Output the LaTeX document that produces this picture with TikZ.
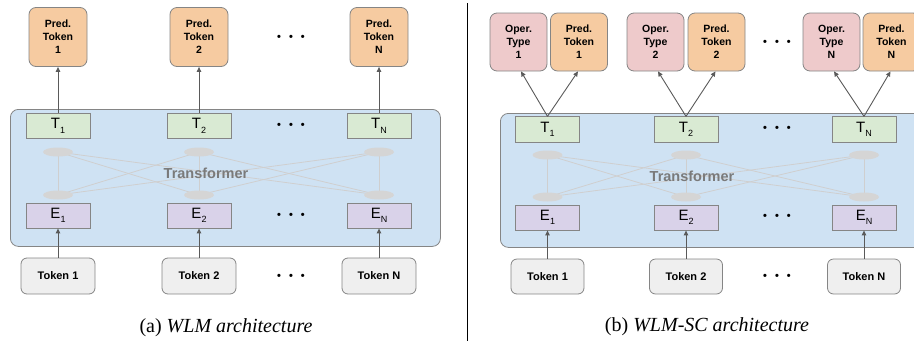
\documentclass[tikz,border=0pt]{standalone}
\usepackage{fontspec}
\setmainfont{Liberation Serif}
\setsansfont{Liberation Sans}
\usetikzlibrary{arrows.meta,shapes.geometric}
\definecolor{predc}{HTML}{F6CBA1}
\definecolor{operc}{HTML}{EECACB}
\definecolor{tc}{HTML}{D9EAD3}
\definecolor{ec}{HTML}{D9D2E9}
\definecolor{bluec}{HTML}{CFE2F3}
\definecolor{tokc}{HTML}{EFEFEF}
\definecolor{bordc}{HTML}{858585}
\definecolor{ellc}{HTML}{D5D5D5}
\definecolor{linec}{HTML}{CFCFCF}
\definecolor{arrc}{HTML}{5A5A5A}
\definecolor{trc}{HTML}{7A7A7A}
\newcommand{\mysub}[1]{\raisebox{-4.5pt}{\fontsize{9}{9}\selectfont #1}}
\newcommand{\threedots}{\textbullet\hspace{8pt}\textbullet\hspace{8pt}\textbullet}
\begin{document}
\begin{tikzpicture}[x=1pt,y=-1pt,
  bx/.style={draw=bordc, line width=0.8pt, inner sep=0pt, align=center},
  rbox/.style={bx, rounded corners=7pt, font=\sffamily\bfseries\fontsize{10.5}{13}\selectfont},
  predbox/.style={rbox, fill=predc, minimum width=58pt, minimum height=59pt},
  operbox/.style={rbox, fill=operc, minimum width=57pt, minimum height=58pt},
  tbox/.style={bx, fill=tc, minimum width=64pt, minimum height=25.5pt, font=\sffamily\fontsize{15}{15}\selectfont},
  ebox/.style={bx, fill=ec, minimum width=64pt, minimum height=25pt, font=\sffamily\fontsize{15}{15}\selectfont},
  tokbox/.style={bx, rounded corners=6pt, fill=tokc, minimum width=74pt, minimum height=36pt, font=\sffamily\bfseries\fontsize{11}{13}\selectfont},
  bigbox/.style={draw=bordc, line width=0.8pt, fill=bluec, rounded corners=8pt},
  ell/.style={ellipse, fill=ellc, draw=none, minimum width=30pt, minimum height=9pt, inner sep=0pt},
  xline/.style={draw=linec, line width=0.8pt},
  arr/.style={draw=arrc, line width=0.9pt, -{Triangle[length=5pt,width=4.5pt]}},
  dotsn/.style={font=\sffamily\bfseries\fontsize{11}{11}\selectfont, inner sep=0pt},
  trlabel/.style={font=\sffamily\bfseries\fontsize{14.5}{15}\selectfont, text=trc, inner sep=0pt},
  captext/.style={font=\fontsize{20}{22}\selectfont, inner sep=0pt}
]
\useasboundingbox (0,0) rectangle (914,341);

% ---------------- panel (a) ----------------
\node[bigbox, minimum width=430pt, minimum height=137pt, anchor=north west] (biga) at (10,109) {};
\foreach \i/\x in {1/58,2/199,N/379}{
  \coordinate (ua\i) at (\x,152);
  \coordinate (la\i) at (\x,195);
}
\foreach \i in {1,2,N}{
  \foreach \j in {1,2,N}{
    \draw[xline] (ua\i) -- (la\j);
  }
}
\node[trlabel] (tra) at (206,173) {Transformer};
\foreach \i/\x in {1/58,2/199,N/379}{
  \node[ell] (uea\i) at (ua\i) {};
  \node[ell] (lea\i) at (la\i) {};
  \node[predbox] (pa\i) at (\x,37) {Pred.\\Token\\\i};
  \node[tbox] (ta\i) at (\x,126) {T\mysub{\i}};
  \node[ebox] (ea\i) at (\x,215.5) {E\mysub{\i}};
  \node[tokbox] (ka\i) at (\x,276) {Token \i};
  \draw[arr] (ta\i) -- (pa\i);
  \draw[arr] (ka\i) -- (ea\i);
}
\node[dotsn] (da1) at (291,38) {\threedots};
\node[dotsn] (da2) at (291,126) {\threedots};
\node[dotsn] (da3) at (291,216) {\threedots};
\node[dotsn] (da4) at (291,277) {\threedots};
\node[captext] (capa) at (226,328) {(a) \textit{WLM architecture}};

% separator
\draw[black, line width=1pt] (467,3) -- (467,341);

% ---------------- panel (b) ----------------
\node[bigbox, minimum width=440pt, minimum height=134pt, anchor=north west] (bigb) at (500,113) {};
\foreach \i/\x in {1/547.5,2/686,N/864}{
  \coordinate (ub\i) at (\x,155);
  \coordinate (lb\i) at (\x,197);
}
\foreach \i in {1,2,N}{
  \foreach \j in {1,2,N}{
    \draw[xline] (ub\i) -- (lb\j);
  }
}
\node[trlabel] (trb) at (692,176) {Transformer};
\foreach \i/\x/\o/\p in {1/547.5/518.5/579,2/686/655.5/716.5,N/864/831.5/891.5}{
  \node[ell] (ueb\i) at (ub\i) {};
  \node[ell] (leb\i) at (lb\i) {};
  \node[operbox] (ob\i) at (\o,42) {Oper.\\Type\\\i};
  \node[operbox, fill=predc] (pb\i) at (\p,42) {Pred.\\Token\\\i};
  \node[tbox] (tb\i) at (\x,129.5) {T\mysub{\i}};
  \node[ebox] (eb\i) at (\x,217.5) {E\mysub{\i}};
  \node[tokbox, minimum width=73pt, minimum height=35pt] (kb\i) at (\x,276.5) {Token \i};
  \draw[arr] (tb\i.north) -- ([xshift=2.5pt]ob\i.south);
  \draw[arr] (tb\i.north) -- ([xshift=-1pt]pb\i.south);
  \draw[arr] (kb\i) -- (eb\i);
}
\node[dotsn] (db1) at (777,43) {\threedots};
\node[dotsn] (db2) at (777,129) {\threedots};
\node[dotsn] (db3) at (777,217) {\threedots};
\node[dotsn] (db4) at (777,277) {\threedots};
\node[captext] (capb) at (707,327) {(b) \textit{WLM-SC architecture}};
\end{tikzpicture}
\end{document}
